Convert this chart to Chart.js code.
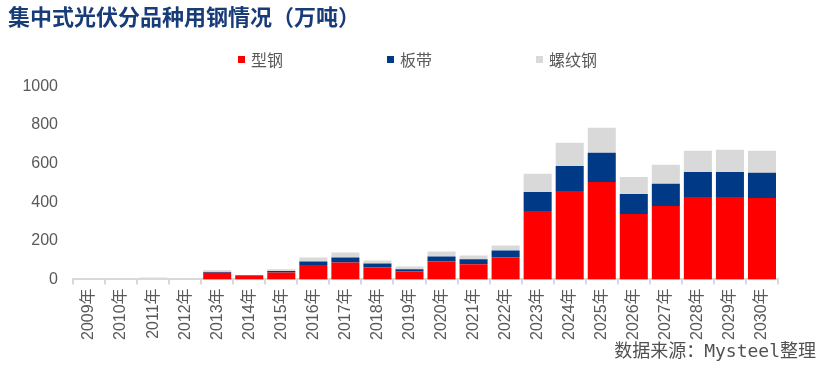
<!DOCTYPE html>
<html>
<head>
<meta charset="utf-8">
<script src="https://cdn.jsdelivr.net/npm/chart.js@4"></script>
<style>
  html, body { margin: 0; padding: 0; background: #fff; }
  #wrap { width: 824px; height: 368px; }
</style>
</head>
<body>
<div id="wrap"><canvas id="chart-1"></canvas></div>
<script>
// 연도 (x축)
const years = ["2009年","2010年","2011年","2012年","2013年","2014年","2015年","2016年","2017年","2018年","2019年",
  "2020年","2021年","2022年","2023年","2024年","2025年","2026年","2027年","2028年","2029年","2030年"];
// 型钢
const xinggang = [0, 0, 0, 0, 35, 22, 36, 74, 88, 62, 41, 93, 78, 114, 354, 458, 505, 339, 380, 427, 427, 422];
// 板带
const bandai = [0, 0, 0, 0, 3, 0, 7, 19, 26, 21, 11, 26, 26, 36, 99, 130, 151, 104, 115, 130, 130, 130];
// 螺纹钢
const luowengang = [0, 0, 10, 0, 9, 0, 9, 21, 26, 15, 15, 26, 20, 26, 94, 120, 130, 88, 99, 110, 115, 115];
const yTicks = [0, 200, 400, 600, 800, 1000];

const grayText = "#595959";
const cjk = "'Noto Sans CJK SC', sans-serif";
const latin = "'Liberation Sans', 'Noto Sans CJK SC', sans-serif";

// 범례를 한 줄에 고정 간격으로 그림
const legendRow = {
  id: "legendRow",
  afterDraw(chart) {
    const ctx = chart.ctx;
    ctx.save();
    ctx.font = "16px " + cjk;
    ctx.textBaseline = "middle";
    chart.data.datasets.forEach((ds, i) => {
      const x = 238 + i * 149;
      const y = 60;
      ctx.fillStyle = ds.backgroundColor;
      ctx.fillRect(x, y - 4, 7, 7);
      ctx.fillStyle = grayText;
      ctx.fillText(ds.label, x + 13, y);
    });
    ctx.restore();
  },
};

const ctx1 = document.getElementById("chart-1").getContext("2d");
const myChart = new Chart(ctx1, {
  type: "bar",
  data: {
    labels: years,
    datasets: [
      { label: "型钢", data: xinggang, backgroundColor: "#FF0000" },
      { label: "板带", data: bandai, backgroundColor: "#003A86" },
      { label: "螺纹钢", data: luowengang, backgroundColor: "#D9D9D9" },
    ],
  },
  options: {
    responsive: true,
    maintainAspectRatio: false,
    animation: false,
    layout: { padding: { left: 8, right: 8, top: 0, bottom: 0 } },
    datasets: { bar: { barPercentage: 0.875, categoryPercentage: 1 } },
    plugins: {
      legend: { display: false },
      tooltip: { enabled: false },
      title: {
        display: true,
        text: "集中式光伏分品种用钢情况（万吨）",
        align: "start",
        color: "#173C78",
        font: { family: cjk, size: 22, weight: "bold" },
        padding: { top: 3, bottom: 57 },
      },
      subtitle: {
        display: true,
        position: "bottom",
        align: "end",
        text: "数据来源：Mysteel整理",
        color: "#505050",
        font: { family: "'DejaVu Sans Mono', 'Noto Sans CJK SC', monospace", size: 18 },
        padding: { top: 0, bottom: 5 },
      },
    },
    scales: {
      x: {
        stacked: true,
        grid: { display: true, drawOnChartArea: false, drawTicks: true, tickLength: 5, color: "#D9D9D9", offset: true, lineWidth: 2 },
        border: { display: true, color: "#D9D9D9", width: 2 },
        ticks: { color: grayText, font: { family: latin, size: 16 }, minRotation: 90, maxRotation: 90, padding: 4, autoSkip: false },
        afterFit(scale) { scale.height = 62; },
      },
      y: {
        stacked: true,
        min: 0,
        max: 1000,
        grid: { display: false, drawTicks: false },
        border: { display: false },
        afterBuildTicks(scale) { scale.ticks = yTicks.map((v) => ({ value: v })); },
        ticks: { color: grayText, font: { family: latin, size: 16 }, padding: 15, callback: (v) => String(v) },
        afterFit(scale) { scale.width = 65; },
      },
      y2: {
        position: "right",
        display: true,
        grid: { display: false },
        border: { display: false },
        ticks: { display: false },
        afterFit(scale) { scale.width = 38; },
      },
    },
  },
  plugins: [legendRow],
});
</script>
</body>
</html>
